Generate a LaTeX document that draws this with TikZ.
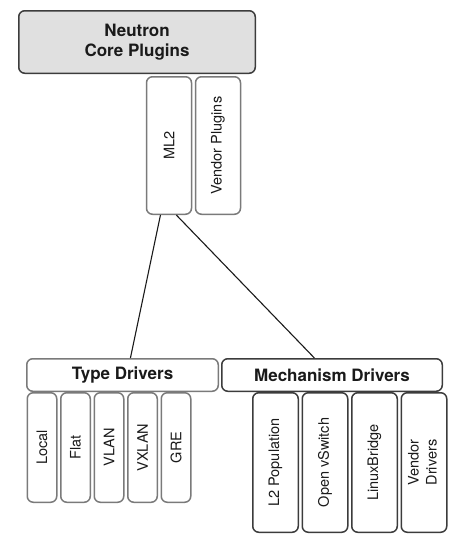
\documentclass[tikz,border=0pt]{standalone}
\usepackage{fontspec}
\setmainfont{TeX Gyre Heros}
\usetikzlibrary{positioning}
\definecolor{txt}{HTML}{1A1A1A}
\definecolor{coregray}{HTML}{E0E0E0}
\definecolor{darkline}{HTML}{3C3C3C}
\definecolor{midline}{HTML}{7A7A7A}

\begin{document}
\begin{tikzpicture}[x=1pt,y=-1pt,
  every node/.style={inner sep=0pt, text=txt, font=\fontsize{14.5}{18}\selectfont},
  corebox/.style={draw=darkline, fill=coregray, line width=1.5pt, rounded corners=6pt,
    minimum width=236.5pt, minimum height=62.5pt, align=center,
    font=\fontsize{17}{20}\selectfont\bfseries},
  plugbox/.style={draw=midline, line width=1.5pt, rounded corners=6pt,
    minimum width=45pt, minimum height=137.5pt},
  hdrbox/.style={line width=1.5pt, rounded corners=6pt, minimum height=32.5pt,
    font=\fontsize{17}{20}\selectfont\bfseries},
  typebox/.style={draw=midline, line width=1.5pt, rounded corners=6pt,
    minimum width=29.5pt, minimum height=109.5pt},
  mechbox/.style={draw=darkline, line width=1.5pt, rounded corners=6pt,
    minimum width=45.5pt, minimum height=139.5pt},
  wire/.style={draw=txt, line width=1.1pt}]
\useasboundingbox (0,0) rectangle (467,546);

% core plugins
\node[corebox] (core) at (137,42) {Neutron\\Core Plugins};
\node[plugbox] (ml2) at (169,145.5) {\rotatebox{90}{ML2}};
\node[plugbox, right=2.5pt of ml2] (vendorplug) {\rotatebox{90}{Vendor Plugins}};

% driver headers
\node[hdrbox, draw=midline, minimum width=191.5pt] (typehdr) at (122.5,375) {Type Drivers};
\node[hdrbox, draw=darkline, minimum width=220.5pt] (mechhdr) at (332,375) {Mechanism Drivers};

% type drivers
\node[typebox] (local) at (42,447.5) {\rotatebox{90}{Local}};
\node[typebox, right=2.5pt of local] (flat) {\rotatebox{90}{Flat}};
\node[typebox, right=2.5pt of flat] (vlan) {\rotatebox{90}{VLAN}};
\node[typebox, right=2.5pt of vlan] (vxlan) {\rotatebox{90}{VXLAN}};
\node[typebox, right=2.5pt of vxlan] (gre) {\rotatebox{90}{GRE}};

% mechanism drivers
\node[mechbox] (l2pop) at (275.5,462.5) {\rotatebox{90}{L2 Population}};
\node[mechbox, right=2.5pt of l2pop] (ovs) {\rotatebox{90}{Open vSwitch}};
\node[mechbox, right=2.5pt of ovs] (linuxbr) {\rotatebox{90}{LinuxBridge}};
\node[mechbox, right=2.5pt of linuxbr] (vendordrv)
  {\rotatebox{90}{\begin{tabular}{@{}c@{}}Vendor\\Drivers\end{tabular}}};

\draw[wire] (ml2.263.4) -- (typehdr.65.2);
\draw[wire] (ml2.276) -- (mechhdr.136.3);
\end{tikzpicture}
\end{document}
